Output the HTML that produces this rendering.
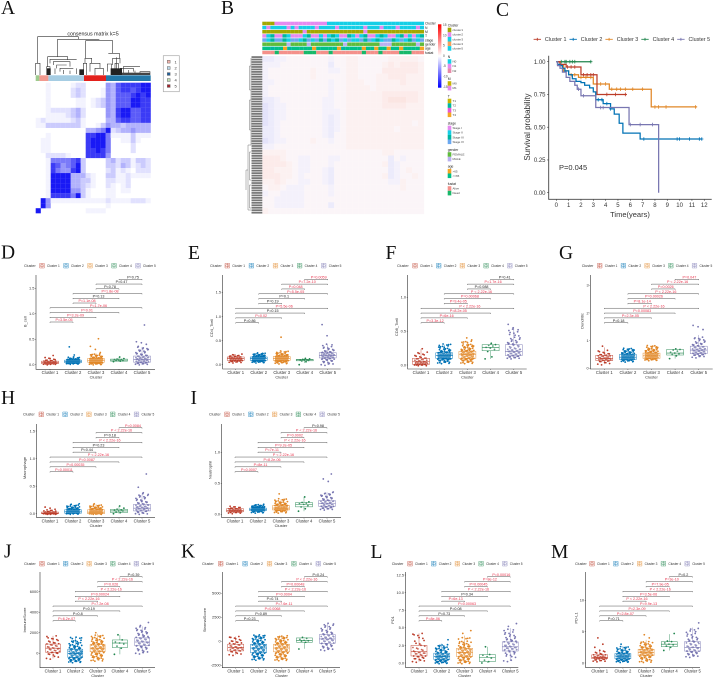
<!DOCTYPE html>
<html lang="en">
<head>
<meta charset="utf-8">
<title>Consensus clustering multi-panel figure</title>
<style>
html,body{margin:0;padding:0;background:#fff;width:713px;height:677px;overflow:hidden}
svg{display:block;font-family:"Liberation Sans",sans-serif}
.letter{font-family:"Liberation Serif",serif;font-size:19.5px;fill:#111}
</style>
</head>
<body>
<svg id="fig" xmlns="http://www.w3.org/2000/svg" width="713" height="677" viewBox="0 0 713 677">
<rect x="0" y="0" width="713" height="677" fill="#fff"/>
<text class="letter" x="1" y="14">A</text>
<text class="letter" x="221" y="14">B</text>
<text class="letter" x="496" y="16">C</text>
<text class="letter" x="1" y="258.5">D</text>
<text class="letter" x="188" y="259">E</text>
<text class="letter" x="385.5" y="259">F</text>
<text class="letter" x="559" y="259">G</text>
<text class="letter" x="1" y="404">H</text>
<text class="letter" x="190.5" y="404">I</text>
<text class="letter" x="4" y="557.5">J</text>
<text class="letter" x="181" y="557.5">K</text>
<text class="letter" x="370.5" y="558">L</text>
<text class="letter" x="551" y="558">M</text>

<text x="93" y="35.5" font-size="5.3" text-anchor="middle" fill="#222">consensus matrix k=5</text>
<g transform="scale(0.3333)" fill="none" stroke="#333" stroke-width="1.8">
<path d="M113 190V110H235V118M173 170V118H298M257 175V122H338V160M143 200V170H203V180M150 190V178H230M160 195V185H210V200M170 205V195H200M180 215V205H220M140 225V200H150V225M145 225V205M255 190V175H275V190M250 225V190H260V225M270 215V190H300V205M285 225V205H310V225M322 215V192H335V215M325 160H358V175M338 195V175H360V190M345 220V190H355V220M350 220V172M360 205H400V215M370 220V200H420M420 225V215H450V225M107 225V190H120V225M165 222V205M190 222V210M210 222V212M230 222V205M365 222V205M385 222V210M405 222V212"/>
<rect x="141" y="205" width="11" height="20" fill="#222" stroke="none"/>
<rect x="238" y="208" width="14" height="17" fill="#222" stroke="none"/>
<rect x="332" y="205" width="34" height="20" fill="#222" stroke="none"/>
<rect x="366" y="218" width="84" height="7" fill="#444" stroke="none"/>
</g>
<g>
<rect x="35.7" y="75.3" width="3.7" height="5.7" fill="#9ecb8e"/>
<rect x="39.4" y="75.3" width="9" height="5.7" fill="#f29a90"/>
<rect x="48.4" y="75.3" width="35.6" height="5.7" fill="#a6cde3"/>
<rect x="84" y="75.3" width="22" height="5.7" fill="#e3211c"/>
<rect x="106" y="75.3" width="44.7" height="5.7" fill="#2478a8"/>
</g>
<g id="consensus-cells"></g>
<g font-size="4" fill="#333">
<rect x="163.3" y="55.7" width="16" height="36" fill="#fff" stroke="#aaa" stroke-width="0.7"/>
<rect x="167.3" y="60.3" width="2.8" height="2.8" fill="#f6b6ae" stroke="#666" stroke-width=".5"/>
<rect x="167.3" y="66.6" width="2.8" height="2.8" fill="#bcd9ea" stroke="#666" stroke-width=".5"/>
<rect x="167.3" y="72.6" width="2.8" height="2.8" fill="#1f5f9c" stroke="#666" stroke-width=".5"/>
<rect x="167.3" y="78.6" width="2.8" height="2.8" fill="#c2e3b6" stroke="#666" stroke-width=".5"/>
<rect x="167.3" y="84.6" width="2.8" height="2.8" fill="#a6222a" stroke="#666" stroke-width=".5"/>
<text x="174.5" y="63.4">1</text>
<text x="174.5" y="69.5">2</text>
<text x="174.5" y="75.5">3</text>
<text x="174.5" y="81.5">4</text>
<text x="174.5" y="87.5">5</text>
</g>

<g id="annot-rows"></g>
<g id="expr-cells"></g>
<g id="row-labels"></g>
<path fill="none" stroke="#777" stroke-width=".5" d="M251 58V145H248V210H251M248 170H246V190M251 66H249.5V90H251M251 100H249.5V130H251M251 152H249.5V180H251M251 185H249.5V208H251"/>
<g>
<defs>
<linearGradient id="cb-grad" x1="0" y1="0" x2="0" y2="1">
<stop offset="0" stop-color="#ff0000"/>
<stop offset=".5" stop-color="#ffffff"/>
<stop offset="1" stop-color="#0000ff"/>
</linearGradient>
</defs>
<rect x="438" y="24.3" width="3.4" height="63.4" fill="url(#cb-grad)"/>
</g>
<g id="expr-legend"></g>
<g id="km"></g>
<g id="boxes"></g>
</svg>
<script>
/* ---------- Panel A consensus matrix: digit = consensus intensity 0-9 ---------- */
const consensusRows = [
"00100001220000547888899",
"00100002320001547887899",
"00100002320001547778989",
"00100000110123547779988",
"00100000110123547779988",
"00122223420000548997788",
"00111123420000548997788",
"12111112310000447887788",
"11333333310013544344444",
"00000000004456923445444",
"00100000008899611113111",
"01100000008999600113100",
"01100000008999600002000",
"01100000008898600002000",
"00222210008888500000000",
"00166667830000342331332",
"00187567930000332431232",
"00186558930000231210222",
"00199994442100331121111",
"00199994433100221120000",
"00199994432100210120000",
"00199995531000110110000",
"00188886931000110000000",
"09511111111111211112221",
"09500000000000100000000",
"90000000001111000000000"
];
/* ---------- Panel B heatmap: 0 blue, 4 neutral, 8 red ---------- */
const exprRows = [
"223344444443445544444555554","333444444442445544445656665","344444445443345544446666665",
"344444445444445544455666555","334444444443445554455556555","344444444443445555455555555",
"344444444443445555556666665","223444444433445555556777665","123344444433445555556666555",
"123344444433345555555555555","123344444432345555555555555","123444444432345555555555545",
"223444444432345555555545555","223444444432445555555555555","123344445443445555555555555",
"334444444444445555555555555","555544444444444444445544444","666544334443344444444243444",
"666654334443444444445234444","665554334432444444444234544","666554344432444444445234454",
"556544334432444444444335444","455433344443444444444445444","344333344443444444444444444",
"443333344444444444444444444","443333344442444444444444444","544444444444444444444444444"
];
const exprColors = ['#dcdcfa','#e4e3fa','#ecebfb','#f4f1fb','#fbf5f8','#fcf1f1','#fcebea','#fbe5e2','#fbdcd8'];
const annotNames = ['Cluster','N','M','T','stage','gender','age','fustat'];
const annotCodes = [
"aaabbbbbbbbbbbbbcccccccccccccccccccccccc",
"cbccccbcbccccbccccbccccccbcccbcccbccccbc",
"aaaaaaaaaabaaaaaaaaaaaaaabaaaaaaaaaaaaaa",
"bcdbbdcbbbcdbbcbcdcbbdcbcdbbcdcbbcdbcbcd",
"ecdeedceecdecededcdececcedecdceedcecdece",
"ggggggfggggfggggggggfggggggggfffggggggfg",
"hhdhhidhhhhhihhhhhidhhhhihhihhihhihhhhi",
"jjjkjjjjjjkkkjjjkjjjjjjjkjjjkjjjjkkkjjj"
];
const annotPalette = {a:'#a3a800',b:'#e58af0',c:'#14cfe6',d:'#00b7a0',e:'#6aa8f0',f:'#b8b0f0',g:'#5fbb3c',h:'#00c08b',i:'#f5a623',j:'#f4908a',k:'#17b86a'};
const colorbarTicks = ['15','10','5','0','-5','-10','-15'];
const legendGroups = [
 ['Cluster',['cluster1','cluster2','cluster3','cluster4','cluster5'],['#a3a800','#e58af0','#14cfe6','#f5a05a','#14cfe6']],
 ['N',['N0','N1','N2'],['#14cfe6','#e58af0','#e88aa8']],
 ['M',['M0','M1'],['#c9b400','#e58af0']],
 ['T',['T1','T2','T3','T4'],['#c9b400','#00b7a0','#e558d8','#f5a623']],
 ['stage',['Stage I','Stage II','Stage III','Stage IV'],['#e58af0','#14cfe6','#00b7a0','#6aa8f0']],
 ['gender',['FEMALE','MALE'],['#5fbb3c','#b8b0f0']],
 ['age',['>65','<=65'],['#f5a623','#00c08b']],
 ['fustat',['Alive','Dead'],['#f4908a','#17b86a']]
];

/* ---------- Panel C survival ---------- */
const kmLabels = ['Cluster 1','Cluster 2','Cluster 3','Cluster 4','Cluster 5'];
const clusterColors = ['#BC3C29','#0072B5','#E18727','#20854E','#7876B1'];
const km1Time = [0,.3,.8,2,3.3,5.7];
const km1Surv = [1,.98,.96,.9,.75,.75];
const km1Cens = [.9,1.2,1.5,2.2,2.5,2.8,3,4.1,4.8,5.6];
const km2Time = [0,.1,.3,.5,.7,1,1.3,1.6,2,2.3,2.7,3,3.2,3.8,4.4,4.7,5.1,5.4,6.8,11.8];
const km2Surv = [1,.98,.97,.95,.93,.9,.87,.85,.84,.82,.8,.77,.71,.68,.64,.6,.53,.455,.41,.41];
const km2Cens = [3.4,3.7,4.1,4.4,7.1,9.8,10,10.8,11.6,11.8];
const km3Time = [0,.3,.6,1,1.8,3,4.3,7.7,11.4];
const km3Surv = [1,.97,.93,.9,.88,.83,.79,.655,.655];
const km3Cens = [1.2,1.5,2,2.4,2.8,3.3,3.6,4,4.5,4.9,5.2,5.6,6.2,7,8,8.3,8.9,11.3];
const km4Time = [0,2.8];
const km4Surv = [1,1];
const km4Cens = [.4,.7,.8,1.1,1.3,1.5,2.8];
const km5Time = [0,.1,.3,.5,.8,1.1,1.5,1.7,2,3.2,5.9,8.3];
const km5Surv = [1,.97,.95,.92,.88,.85,.82,.79,.74,.65,.52,0];
const km5Cens = [1.8,2.2,3.6,3.8,6,6.8,7.8];
const kmXTicks = ['0','1','2','3','4','5','6','7','8','9','10','11','12'];
const kmYTicks = ['0.00','0.25','0.50','0.75','1.00'];

/* ---------- Box panels ---------- */
const boxLabels = ['Cluster 1','Cluster 2','Cluster 3','Cluster 4','Cluster 5'];

const D_ticks=['0.0','0.5','1.0','1.5'];
const D_p=['P=3.5e-05','P=3.2e-09','P=0.01','P=1.7e-06','P=1.1e-08','P=0.13','P=1.8e-08','P=0.78','P=0.47','P=0.75'];
const D_box=[[.02,.04,.07],[.04,.06,.09],[.05,.08,.12],[.07,.09,.11],[.05,.1,.17]];
const D1=[.01,.02,.02,.03,.03,.03,.04,.04,.04,.05,.05,.06,.06,.07,.08,.09,.1,.12,.14,.18];
const D2=[.02,.03,.03,.04,.04,.05,.05,.05,.06,.06,.06,.07,.07,.07,.08,.08,.09,.09,.1,.11,.12,.14,.19,.35];
const D3=[.01,.02,.03,.04,.04,.05,.05,.06,.06,.07,.07,.08,.08,.09,.09,.1,.1,.11,.12,.13,.14,.16,.18,.2,.24,.3,.36,.51];
const D4=[.06,.07,.08,.08,.09,.1,.1,.11,.12,.15];
const D5=[.01,.02,.03,.04,.05,.06,.07,.08,.09,.1,.11,.12,.13,.14,.15,.16,.18,.2,.22,.25,.28,.3,.33,.36,.4,.43,.45,.78];

const E_ticks=['0.0','0.5','1.0','1.5'];
const E_p=['P=0.86','P=0.02','P=0.15','P=5.5e-06','P=0.19','P=0.1','P=5.5e-05','P=0.048','P=7.2e-10','P=0.0059'];
const E_box=[[.09,.13,.16],[.09,.13,.16],[.09,.13,.17],[.08,.1,.11],[.14,.19,.25]];
const E1=[.05,.06,.07,.08,.09,.09,.1,.1,.11,.12,.12,.13,.13,.14,.14,.15,.16,.17,.18,.19,.2,.22];
const E2=[.05,.06,.07,.08,.09,.09,.1,.1,.11,.11,.12,.12,.13,.13,.14,.14,.15,.15,.16,.17,.18,.19,.2,.22,.23];
const E3=[.03,.05,.06,.07,.08,.09,.1,.1,.11,.11,.12,.12,.13,.13,.14,.15,.15,.16,.17,.18,.19,.2,.22,.24,.27,.57];
const E4=[0,.06,.08,.09,.1,.1,.1,.11,.12,.13];
const E5=[0,.03,.06,.08,.1,.12,.13,.14,.15,.16,.17,.18,.19,.2,.21,.22,.23,.24,.25,.26,.28,.3,.33,.36,.41,.6,.83];

const F_ticks=['0.0','0.5','1.0'];
const F_p=['P=3.3e-12','P=6e-16','P=8.2e-05','P < 2.22e-16','P=9.4e-05','P=0.00068','P < 2.22e-16','P=0.088','P=1.7e-16','P=0.41'];
const F_box=[[.01,.05,.1],[.1,.14,.18],[.1,.16,.2],[.21,.26,.3],[.14,.2,.3]];
const F1=[0,0,.01,.01,.02,.02,.03,.03,.04,.04,.05,.05,.06,.07,.08,.09,.1,.11,.13,.15,.17,.19,.24];
const F2=[.03,.05,.07,.08,.09,.1,.1,.11,.12,.12,.13,.13,.14,.14,.15,.15,.16,.17,.18,.19,.2,.22,.24,.27,.3];
const F3=[.03,.05,.07,.08,.09,.1,.11,.12,.13,.14,.15,.15,.16,.17,.18,.19,.2,.21,.22,.24,.26,.28,.3,.34,.37,.4];
const F4=[.09,.12,.2,.23,.25,.26,.28,.29,.3,.32];
const F5=[.1,.11,.12,.13,.14,.15,.16,.17,.18,.19,.2,.21,.22,.23,.24,.26,.28,.3,.32,.34,.37,.4,.44,.48,.52,.55,.6];

const G_ticks=['0','1','2','3'];
const G_p=['P=0.18','P=2.3e-05','P=0.00083','P < 2.22e-16','P=8.1e-14','P=0.00026','P < 2.22e-16','P=0.0026','P < 2.22e-16','P=0.047'];
const G_box=[[.28,.36,.47],[.32,.4,.5],[.36,.45,.55],[.48,.55,.68],[.53,.66,.8]];
const G1=[.15,.2,.24,.27,.29,.31,.33,.34,.36,.37,.39,.41,.43,.45,.47,.49,.52,.55,.6,.65,.8];
const G2=[.25,.28,.3,.32,.33,.35,.36,.37,.38,.4,.41,.42,.44,.45,.47,.48,.5,.52,.55,.58,.62,.66,.7];
const G3=[.3,.32,.34,.36,.38,.39,.41,.42,.44,.45,.46,.48,.5,.51,.53,.55,.57,.6,.63,.66,.7,.75,.8];
const G4=[.35,.45,.5,.52,.55,.58,.62,.66,.68,.7];
const G5=[.4,.45,.48,.5,.52,.54,.56,.58,.6,.62,.64,.66,.68,.7,.72,.75,.78,.8,.84,.88,.92,.98,1.05,1.1,1.4,1.5,1.55];

const H_ticks=['0.0','0.5','1.0','1.5'];
const H_p=['P=0.00011','P=0.00035','P=0.0087','P < 2.22e-16','P=0.44','P=0.23','P < 2.22e-16','P=0.18','P < 2.22e-16','P=0.0084'];
const H_box=[[0,.01,.03],[.01,.04,.07],[0,.03,.07],[.02,.05,.08],[.05,.1,.17]];
const H1=[0,0,0,.01,.01,.01,.01,.02,.02,.02,.03,.03,.04,.05,.06,.07,.08,.1,.12];
const H2=[0,.01,.01,.02,.02,.03,.03,.04,.04,.05,.05,.06,.06,.07,.08,.09,.1,.11,.13,.15,.17,.18];
const H3=[0,0,.01,.01,.02,.02,.03,.03,.04,.04,.05,.05,.06,.07,.08,.09,.1,.11,.13,.15,.18];
const H4=[0,.02,.03,.05,.05,.06,.07,.08,.1,.14];
const H5=[0,.01,.03,.05,.06,.07,.08,.09,.1,.11,.12,.13,.14,.15,.17,.19,.21,.23,.26,.29,.32,.35,.38,.48,.72];

const I_ticks=['0.0','0.5','1.0'];
const I_p=['P=0.0007','P=8e-11','P=8.2e-06','P < 2.22e-16','P=7e-11','P=9.2e-05','P < 2.22e-16','P=0.0002','P < 2.22e-16','P=0.98'];
const I_box=[[.04,.06,.09],[.06,.08,.1],[.07,.1,.14],[.12,.16,.19],[.13,.17,.22]];
const I1=[.02,.03,.04,.04,.05,.05,.05,.06,.06,.07,.07,.08,.08,.09,.09,.1,.11,.12,.13];
const I2=[.03,.04,.05,.06,.06,.07,.07,.07,.08,.08,.08,.09,.09,.1,.1,.11,.11,.12,.13,.14,.15];
const I3=[.03,.05,.06,.07,.07,.08,.09,.09,.1,.1,.11,.12,.13,.14,.15,.16,.17,.19,.21,.24,.33];
const I4=[.05,.09,.12,.14,.16,.17,.18,.19,.2,.28];
const I5=[.08,.09,.1,.11,.12,.13,.14,.15,.16,.17,.18,.19,.2,.21,.22,.24,.26,.28,.3,.32,.34,.36,.53,.57,.65];

const J_ticks=['0','2000','4000','6000'];
const J_p=['P=6.2e-07','P=0.8','P=0.19','P=7.2e-08','P < 2.22e-16','P=0.00024','P < 2.22e-16','P=0.026','P < 2.22e-16','P=0.39'];
const J_box=[[100,500,900],[-400,0,400],[150,500,850],[550,1000,1300],[750,1100,1500]];
const J1=[-500,-300,-100,0,100,150,250,350,450,500,600,700,800,900,1000,1100,1250,1400,1500,1700];
const J2=[-850,-750,-650,-550,-450,-400,-300,-200,-100,-50,0,50,100,200,300,400,500,650,800,1000,1200,1500];
const J3=[-700,-500,-350,-200,-50,100,200,300,400,450,500,600,700,800,900,1000,1150,1300,1500,1700,2000];
const J4=[-100,500,700,900,1000,1100,1300,1800];
const J5=[0,200,350,500,650,750,850,950,1050,1150,1250,1350,1450,1550,1700,1850,2000,2150,2300,2500,2700,3000];

const K_ticks=['-2500','0','2500','5000'];
const K_p=['P=0.23','P=0.89','P=0.0068','P=7.6e-11','P=0.74','P=0.0004','P < 2.22e-16','P=0.00048','P < 2.22e-16','P=0.24'];
const K_box=[[-1000,-650,-300],[-1200,-700,-300],[-1100,-700,-300],[-100,100,350],[-200,250,700]];
const K1=[-1400,-1250,-1100,-1000,-900,-850,-750,-700,-650,-600,-500,-400,-300,-200,-100,0,100,250,400,500];
const K2=[-1900,-1750,-1600,-1450,-1300,-1200,-1100,-1000,-900,-800,-700,-600,-500,-400,-300,-200,-100,50,200,350,500,600];
const K3=[-1950,-1800,-1650,-1500,-1350,-1200,-1100,-1000,-900,-800,-700,-600,-500,-400,-300,-200,-100,50,200,350,500];
const K4=[-800,-100,0,50,100,200,300,400];
const K5=[-900,-750,-600,-450,-300,-200,-100,0,100,200,250,300,400,500,600,700,850,1000,1200,1400,1600,1800];

const L_ticks=['0.0','2.5','5.0','7.5','10.0','12.5'];
const L_p=['P=8e-06','P=0.73','P=0.08','P=0.00063','P=6e-13','P=0.34','P < 2.22e-16','P=0.00045','P=8e-12','P=0.00016'];
const L_box=[[1,1.6,2.5],[.5,.9,1.4],[.9,1.5,2.1],[.2,.8,1.2],[1.7,2.3,3]];
const L1=[.2,.4,.6,.7,.9,1,1.1,1.3,1.4,1.5,1.6,1.8,2,2.2,2.5,2.8,3.2,3.6,4,4.2];
const L2=[0,.1,.2,.3,.4,.5,.6,.7,.8,.9,.9,1,1.1,1.2,1.3,1.4,1.6,1.8,2,2.2,2.5,3.3];
const L3=[0,.2,.4,.6,.8,.9,1,1.1,1.3,1.4,1.5,1.6,1.8,1.9,2,2.2,2.4,2.7,3,3.5,4.2,4.6];
const L4=[0,.2,.4,.7,.9,1.1,1.2,2.3];
const L5=[.3,.9,1.2,1.5,1.7,1.9,2,2.1,2.2,2.3,2.5,2.6,2.8,3,3.2,3.4,3.7,4,4.3,4.7,5.2,5.6];

const M_ticks=['0','5','10'];
const M_p=['P=0.71','P=2.8e-07','P=2.3e-09','P=9.9e-13','P < 2.22e-16','P=3.5e-06','P < 2.22e-16','P=7.9e-05','P=3e-10','P=0.2'];
const M_box=[[.7,.9,1.3],[.7,1.1,1.5],[1.2,1.7,2.2],[2.6,3,3.4],[1.9,2.5,3.4]];
const M1=[.3,.4,.5,.6,.7,.8,.8,.9,.9,1,1,1.1,1.2,1.3,1.4,1.6,1.8,2,2.5,3,4];
const M2=[.2,.3,.4,.5,.6,.7,.8,.9,1,1,1.1,1.2,1.3,1.4,1.5,1.6,1.8,2,2.2,2.5,3];
const M3=[.2,.5,.8,1,1.2,1.3,1.4,1.5,1.6,1.7,1.8,1.9,2,2.1,2.3,2.5,2.7,3,3.3,4,4.5];
const M4=[2,2.5,2.7,2.9,3,3.2,3.4,3.5,4.7];
const M5=[1,1.2,1.4,1.6,1.8,1.9,2,2.2,2.4,2.5,2.6,2.8,3,3.2,3.4,3.6,3.9,4.2,4.6,5,5.4,6.4];

/* ---------- helpers ---------- */
const NS='http://www.w3.org/2000/svg';
function mk(tag,attrs,parent,text){
  const e=document.createElementNS(NS,tag);
  for(const k in attrs)e.setAttribute(k,attrs[k]);
  if(text!==undefined)e.textContent=text;
  parent.appendChild(e);
  return e;
}
const bracketPairs=[[0,1],[0,2],[0,3],[0,4],[1,2],[1,3],[1,4],[2,3],[2,4],[3,4]];

/* ---------- Panel A ---------- */
(function(){
  const g=document.getElementById('consensus-cells');
  const x0=35.7,y0=82.7,cw=5,ch=5.02;
  consensusRows.forEach((row,r)=>{
    for(let c=0;c<row.length;c++){
      const v=Math.pow(+row[c]/9,1.35);
      if(v===0)continue;
      const R=Math.round(255-230*v),B=Math.round(255-10*v);
      const cell=mk('rect',{x:x0+c*cw,y:y0+r*ch,width:cw+.1,height:ch+.1,fill:`rgb(${R},${R},${B})`},g);
      
      
    }
  });
})();

/* ---------- Panel B ---------- */
(function(){
  const g=document.getElementById('expr-cells');
  const x0=262.3,y0=56,W=161.7,H=158;
  const cw=W/exprRows[0].length,ch=H/exprRows.length;
  exprRows.forEach((row,r)=>{
    for(let c=0;c<row.length;c++){
      const cell=mk('rect',{x:x0+c*cw,y:y0+r*ch,width:cw+.1,height:ch+.1,fill:exprColors[+row[c]]},g);
      
      
    }
  });
  const ag=document.getElementById('annot-rows');
  annotCodes.forEach((code,r)=>{
    const y=21.7+r*4.15,w=W/code.length;
    for(let c=0;c<code.length;c++){
      const seg=mk('rect',{x:x0+c*w,y:y,width:w+.05,height:3.5,fill:annotPalette[code[c]]},ag);
      
      
    }
    const lab=mk('text',{x:x0+W+1,y:y+3,'font-size':3.4,fill:'#222'},ag,annotNames[r]);
    
    
  });
  const rl=document.getElementById('row-labels');
  for(let i=0;i<64;i++){
    const line=mk('rect',{x:251.5,y:56.2+i*2.47,width:10.8,height:1.75,fill:'#777'},rl);
    
    
  }
  const lg=document.getElementById('expr-legend');
  colorbarTicks.forEach((t,i)=>{
    const lab=mk('text',{x:443,y:26+i*10.3,'font-size':3.2,fill:'#444'},lg,t);
    
    
  });
  const titleYs=[26.5,58,80,97.5,124.5,151,167.7,185];
  legendGroups.forEach((gr,i)=>{
    const ty=titleYs[i];
    const t=mk('text',{x:447.7,y:ty,'font-size':3.4,fill:'#222'},lg,gr[0]);
    
    
    gr[1].forEach((name,j)=>{
      const y=ty+1.2+j*4.6;
      const sw=mk('rect',{x:447.7,y:y,width:3.6,height:4.6,fill:gr[2][j]},lg);
      
      
      const lb=mk('text',{x:452.5,y:y+3.4,'font-size':3,fill:'#444'},lg,name);
      
      
    });
  });
})();

/* ---------- Panel C ---------- */
(function(){
  const g=document.getElementById('km');
  const xs=v=>556.3+v*12.33, ys=v=>192.7-v*131;
  const times=[km1Time,km2Time,km3Time,km4Time,km5Time];
  const survs=[km1Surv,km2Surv,km3Surv,km4Surv,km5Surv];
  const cens=[km1Cens,km2Cens,km3Cens,km4Cens,km5Cens];
  const survAt=(t,s,x)=>{let v=s[0];for(let i=0;i<t.length;i++)if(t[i]<=x)v=s[i];return v;};
  [3,2,0,1,4].forEach(k=>{
    const T=times[k],S=survs[k];
    let d=`M${xs(T[0])} ${ys(S[0])}`;
    for(let i=1;i<T.length;i++)d+=`H${xs(T[i])}V${ys(S[i])}`;
    const p=mk('path',{d:d,fill:'none',stroke:clusterColors[k],'stroke-width':1.25},g);
    
    
    cens[k].forEach(c=>{
      const y=ys(survAt(T,S,c));
      const m=mk('path',{d:`M${xs(c)-1.6} ${y}H${xs(c)+1.6}M${xs(c)} ${y-1.8}V${y+1.8}`,stroke:clusterColors[k],'stroke-width':.8,fill:'none'},g);
      
      
    });
  });
  const ax=mk('path',{d:'M548.7 55.7V199.3H711.7',fill:'none',stroke:'#444','stroke-width':.9},g);
  
  
  kmXTicks.forEach(t=>{
    const x=xs(+t);
    const tk=mk('path',{d:`M${x} 199.3v1.6`,stroke:'#444','stroke-width':.6},g);
    
    
    const lb=mk('text',{x:x,y:207,'font-size':6,'text-anchor':'middle',fill:'#333'},g,t);
    
    
  });
  kmYTicks.forEach(t=>{
    const y=ys(parseFloat(t));
    const tk=mk('path',{d:`M547 ${y}h1.7`,stroke:'#444','stroke-width':.6},g);
    
    
    const lb=mk('text',{x:545.5,y:y+2.1,'font-size':6,'text-anchor':'end',fill:'#333'},g,t);
    
    
  });
  const yt=mk('text',{x:530,y:127,'font-size':8,'text-anchor':'middle',fill:'#333',transform:'rotate(-90 530 127)'},g,'Survival probability');
  
  
  const xt=mk('text',{x:630,y:217,'font-size':7.5,'text-anchor':'middle',fill:'#333'},g,'Time(years)');
  
  
  const pv=mk('text',{x:559,y:170,'font-size':7.5,fill:'#333'},g,'P=0.045');
  
  
  kmLabels.forEach((l,i)=>{
    const x=537.3+i*35.9;
    const s=mk('path',{d:`M${x-3.7} 39.3h7.4M${x} 37.9v2.8`,stroke:clusterColors[i],'stroke-width':.9,fill:'none'},g);
    
    
    const lb=mk('text',{x:x+7.6,y:41.2,'font-size':5.4,fill:'#333'},g,l);
    
    
  });
})();

/* ---------- Box panels D-M ---------- */
const overplot=[2,5,5,1,3];
const nudge=[0,.7,-.7,.35,-.35];
function drawPanel(o){
  const root=document.getElementById('boxes');
  const g=mk('g',{},root);
  
  
  const k=(o.pxB-o.pxA)/(o.valB-o.valA);
  const ys=v=>o.pxA+(v-o.valA)*k;
  const cx=i=>o.c0+i*o.cStep;
  const ax=mk('path',{d:`M${o.ax} ${o.top}V${o.bot}H${o.right}`,fill:'none',stroke:'#333','stroke-width':.6},g);
  
  
  o.ticks.forEach(t=>{
    const y=ys(parseFloat(t));
    const tk=mk('path',{d:`M${o.ax-1} ${y}h1`,stroke:'#333','stroke-width':.4},g);
    
    
    const lb=mk('text',{x:o.ax-1.6,y:y+1.4,'font-size':3.9,'text-anchor':'end',fill:'#333'},g,t);
    
    
  });
  boxLabels.forEach((l,i)=>{
    const tk=mk('path',{d:`M${cx(i)} ${o.bot}v1`,stroke:'#333','stroke-width':.4},g);
    
    
    const lb=mk('text',{x:cx(i),y:o.bot+4.9,'font-size':4.2,'text-anchor':'middle',fill:'#333'},g,l);
    
    
  });
  const xt=mk('text',{x:cx(2),y:o.bot+9.4,'font-size':4,'text-anchor':'middle',fill:'#333'},g,'Cluster');
  
  
  const yt=mk('text',{x:o.yTitleX,y:o.yTitleY,'font-size':4,'text-anchor':'middle',fill:'#333',transform:`rotate(-90 ${o.yTitleX} ${o.yTitleY})`},g,o.yTitle);
  
  
  /* legend */
  const lt=mk('text',{x:o.legX,y:o.legY+1.3,'font-size':3.7,fill:'#333'},g,'Cluster');
  
  
  boxLabels.forEach((l,i)=>{
    const x=o.key0+i*o.keyStep;
    const kb=mk('path',{d:`M${x-2.3} ${o.legY-2.3}h4.6v4.6h-4.6zM${x-1.5} ${o.legY-.9}h3v1.8h-3zM${x} ${o.legY-2.3}v4.6`,fill:'none',stroke:clusterColors[i],'stroke-width':.35},g);
    
    
    const lb=mk('text',{x:x+5,y:o.legY+1.2,'font-size':3.2,fill:'#333'},g,l);
    
    
  });
  /* points and boxes */
  o.series.forEach((vals,i)=>{
    const w=i===3?11:13;
    const q=o.box[i],iqr=q[2]-q[0];
    const lowFence=q[0]-1.5*iqr,highFence=q[2]+1.5*iqr;
    vals.forEach((v,j)=>{
      const copies=(v<lowFence||v>highFence)?1:overplot[i];
      for(let c=0;c<copies;c++){
        const pt=mk('circle',{cx:cx(i)+(((j*0.618034)+c*0.29)%1-.5)*w,cy:ys(v)+nudge[c],r:.9,fill:clusterColors[i]},g);
        
        
      }
    });
    const lo=Math.max(Math.min.apply(null,vals),lowFence),hi=Math.min(Math.max.apply(null,vals),highFence);
    const bw=o.boxW/2,c=cx(i);
    const wh=mk('path',{d:`M${c} ${ys(lo)}V${ys(q[0])}M${c} ${ys(q[2])}V${ys(hi)}`,stroke:clusterColors[i],'stroke-width':.4,fill:'none'},g);
    
    
    const bx=mk('rect',{x:c-bw,y:ys(q[2]),width:bw*2,height:Math.max(ys(q[0])-ys(q[2]),.5),fill:'#fff','fill-opacity':.22,stroke:clusterColors[i],'stroke-width':.45},g);
    
    
    const md=mk('path',{d:`M${c-bw} ${ys(q[1])}h${bw*2}`,stroke:clusterColors[i],'stroke-width':.6},g);
    
    
  });
  /* brackets */
  const dy=(o.brLow-o.brTop)/9;
  bracketPairs.forEach((pair,i)=>{
    const y=o.brLow-i*dy,a=cx(pair[0]),b=cx(pair[1]);
    const br=mk('path',{d:`M${a} ${y+.8}V${y}H${b}V${y+.8}`,fill:'none',stroke:'#555','stroke-width':.5},g);
    
    
    const label=o.p[i];
    const val=label.indexOf('<')>=0?0:parseFloat(label.slice(2));
    const lb=mk('text',{x:(a+b)/2+2.5,y:y-.9,'font-size':3.7,'text-anchor':'middle',fill:val<0.05?'#e8354e':'#222'},g,label);
    
    
  });
}
drawPanel({key:'d',series:[D1,D2,D3,D4,D5],box:D_box,ticks:D_ticks,p:D_p,yTitle:'B_cell',ax:36,right:155,top:275,bot:369.3,c0:50,cStep:23,valA:0,pxA:364.7,valB:1.5,pxB:288.3,brLow:322,brTop:279.3,yTitleX:26.5,yTitleY:321.7,legX:24,legY:265.7,key0:42,keyStep:24,boxW:17});
drawPanel({key:'e',series:[E1,E2,E3,E4,E5],box:E_box,ticks:E_ticks,p:E_p,yTitle:'CD4_Tcell',ax:222.7,right:340.7,top:275,bot:369,c0:235.7,cStep:23,valA:0,pxA:364.7,valB:1.5,pxB:292.3,brLow:322.7,brTop:279.3,yTitleX:213,yTitleY:328,legX:210,legY:265.7,key0:227.3,keyStep:24.1,boxW:17});
drawPanel({key:'f',series:[F1,F2,F3,F4,F5],box:F_box,ticks:F_ticks,p:F_p,yTitle:'CD8_Tcell',ax:407.7,right:526.7,top:275,bot:369,c0:421,cStep:23.2,valA:0,pxA:365,valB:1,pxB:297.3,brLow:322.7,brTop:279.3,yTitleX:398,yTitleY:327,legX:397,legY:265.7,key0:415,keyStep:23.7,boxW:17});
drawPanel({key:'g',series:[G1,G2,G3,G4,G5],box:G_box,ticks:G_ticks,p:G_p,yTitle:'Dendritic',ax:590.3,right:712.7,top:275,bot:369,c0:604.3,cStep:23.6,valA:0,pxA:368.3,valB:3,pxB:285.3,brLow:322.7,brTop:279.3,yTitleX:583.5,yTitleY:321,legX:581.7,legY:265.7,key0:599.7,keyStep:23.7,boxW:17});
drawPanel({key:'h',series:[H1,H2,H3,H4,H5],box:H_box,ticks:H_ticks,p:H_p,yTitle:'Macrophage',ax:36.7,right:155,top:424,bot:517.7,c0:50,cStep:23,valA:0,pxA:513.7,valB:1.5,pxB:431,brLow:471.7,brTop:427.7,yTitleX:26,yTitleY:468,legX:23,legY:414.3,key0:41.3,keyStep:23.8,boxW:17});
drawPanel({key:'i',series:[I1,I2,I3,I4,I5],box:I_box,ticks:I_ticks,p:I_p,yTitle:'Neutrophil',ax:221.7,right:341,top:424,bot:517.7,c0:235,cStep:23,valA:0,pxA:514.3,valB:1,pxB:452.3,brLow:471.7,brTop:427.7,yTitleX:211.5,yTitleY:470,legX:209,legY:414.3,key0:227,keyStep:23.8,boxW:17});
drawPanel({key:'j',series:[J1,J2,J3,J4,J5],box:J_box,ticks:J_ticks,p:J_p,yTitle:'ImmuneScore',ax:40,right:155,top:572,bot:667.7,c0:53,cStep:22.3,valA:0,pxA:653.3,valB:6000,pxB:591.7,brLow:620.7,brTop:576.7,yTitleX:26,yTitleY:620,legX:24,legY:563.7,key0:42,keyStep:23.6,boxW:15});
drawPanel({key:'k',series:[K1,K2,K3,K4,K5],box:K_box,ticks:K_ticks,p:K_p,yTitle:'StromalScore',ax:222.3,right:340,top:572,bot:667.7,c0:235.7,cStep:22.9,valA:0,pxA:641.3,valB:5000,pxB:593.3,brLow:620.7,brTop:576.7,yTitleX:206,yTitleY:620,legX:202,legY:563.7,key0:220.7,keyStep:24.4,boxW:16});
drawPanel({key:'l',series:[L1,L2,L3,L4,L5],box:L_box,ticks:L_ticks,p:L_p,yTitle:'PD1',ax:405.7,right:518.3,top:572,bot:667.7,c0:419,cStep:22.8,valA:0,pxA:663,valB:12.5,pxB:575,brLow:620.7,brTop:576.7,yTitleX:394,yTitleY:620,legX:391.7,legY:563.7,key0:410,keyStep:23.7,boxW:16});
drawPanel({key:'m',series:[M1,M2,M3,M4,M5],box:M_box,ticks:M_ticks,p:M_p,yTitle:'PD-L1',ax:585.7,right:700,top:572,bot:667.7,c0:599.7,cStep:23.2,valA:0,pxA:663,valB:10,pxB:600.3,brLow:620.7,brTop:576.7,yTitleX:577.5,yTitleY:618,legX:575,legY:563.7,key0:592,keyStep:23.8,boxW:16});
</script>
</body>
</html>
